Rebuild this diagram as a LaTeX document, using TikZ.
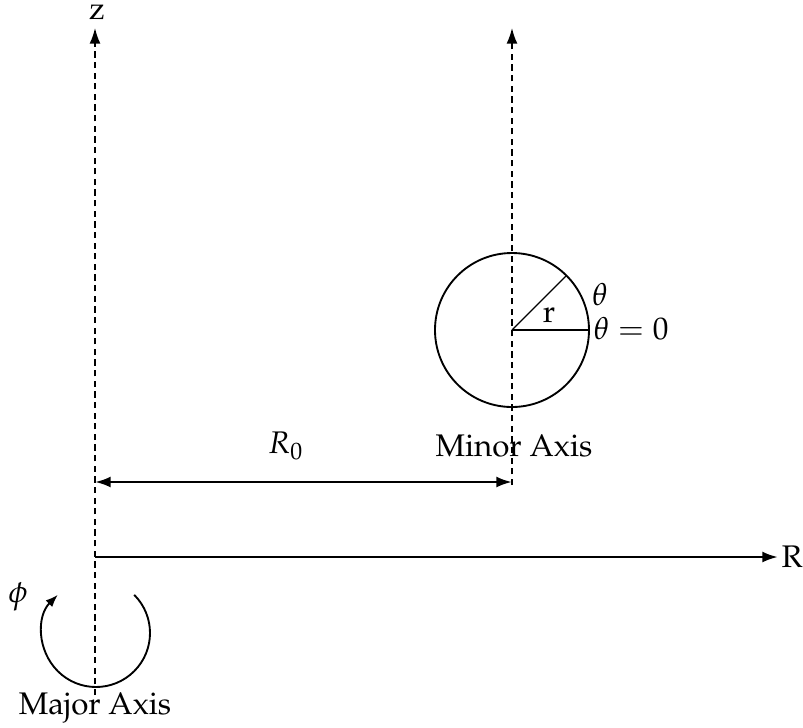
\documentclass[tikz,border=0pt]{standalone}
\usepackage{amsmath}
\usepackage[T1]{fontenc}
\usepackage{mathpazo}
\usetikzlibrary{arrows.meta, calc}
\tikzset{
  axis line/.style={
    -{Latex[length=5pt, width=3.5pt]},
    line width=0.5pt,
    dash pattern=on 2pt off 1.4pt
  },
  main arrow/.style={
    -{Latex[length=5pt, width=3.5pt]},
    line width=0.8pt
  },
  tube line/.style={
    line width=0.6pt
  },
  label text/.style={
    inner sep=1pt
  }
}
\begin{document}
\begin{tikzpicture}[x=0.32pt, y=-0.32pt]
    % 画布大小
    \useasboundingbox (0,0) rectangle (803,727);

    % 大轴 (z 轴)
    \coordinate (majorTop) at (95,28);
    \coordinate (majorBot) at (95,695);
    \draw[axis line] (majorBot) -- (majorTop);
    \node[label text, anchor=base, inner sep=0pt] (zLabel) at (97,19) {z};
    \node[label text] (majorLabel) at (95,708) {Major Axis};

    % 小轴
    \coordinate (minorTop) at (512,28);
    \coordinate (minorBot) at (512,485);
    \draw[axis line] (minorBot) -- (minorTop);
    \node[label text] (minorLabel) at (514,446) {Minor Axis};

    % R 轴
    \coordinate (origin) at (95,557);
    \coordinate (rEnd) at (778,557);
    \draw[main arrow] (origin) -- (rEnd);
    \node[label text, anchor=west] (rLabel) at (rEnd) {R};

    % R_0 间距
    \coordinate (rzeroL) at (95,482);
    \coordinate (rzeroR) at (512,482);
    \draw[main arrow, {Latex[length=5pt, width=3.5pt]}-{Latex[length=5pt, width=3.5pt]}] (rzeroL) -- (rzeroR);
    \node[label text] (rzeroLabel) at (286,446) {$R_0$};

    % 截面圆
    \coordinate (center) at (512,330);
    \draw[tube line] (center) circle[radius=77];
    \coordinate (thetaZero) at ($(center)+(77,0)$);
    \coordinate (thetaPt) at ($(center)+(54.4,-54.4)$);
    \draw[line width=0.8pt] (center) -- (thetaZero);
    \draw[line width=0.4pt] (center) -- (thetaPt);
    \node[label text] (rText) at (549,315) {r};
    \node[label text] (thetaText) at (600,295) {$\theta$};
    \node[label text, anchor=west] (thetaZeroText) at (590,329) {$\theta = 0$};

    % 环向 phi
    \coordinate (phiCenter) at (96,633);
    \draw[tube line, -{Latex[length=4pt, width=3pt]}] ($(phiCenter)+(-45:54)$) arc[start angle=-45, end angle=225, radius=54];
    \node[label text] (phiText) at (18,597) {$\phi$};
\end{tikzpicture}
\end{document}
